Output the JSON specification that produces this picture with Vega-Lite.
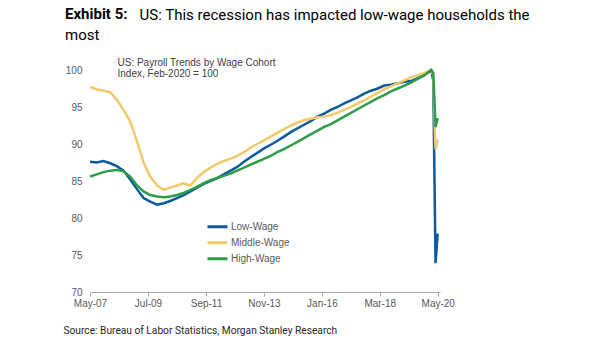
{
  "$schema": "https://vega.github.io/schema/vega-lite/v6.json",
  "width": 350,
  "height": 222,
  "autosize": {"type": "none"},
  "padding": {"left": 90, "top": 70, "right": 165, "bottom": 49},
  "background": "white",
  "title": {
    "text": "Exhibit 5:",
    "subtitle": "most",
    "anchor": "start",
    "frame": "group",
    "dx": -25,
    "offset": -35.5,
    "font": "Roboto",
    "fontSize": 15,
    "fontWeight": "bold",
    "color": "#000000",
    "subtitleFont": "Roboto",
    "subtitleFontSize": 15,
    "subtitleFontWeight": "normal",
    "subtitleColor": "#000000",
    "subtitlePadding": 5.7
  },
  "config": {"view": {"stroke": null}},
  "data": {
    "values": [
      {"date": "2007-05-01", "Low-Wage": 87.6, "Middle-Wage": 97.7, "High-Wage": 85.6},
      {"date": "2007-08-01", "Low-Wage": 87.5, "Middle-Wage": 97.4, "High-Wage": 85.9},
      {"date": "2007-11-01", "Low-Wage": 87.7, "Middle-Wage": 97.2, "High-Wage": 86.2},
      {"date": "2008-02-01", "Low-Wage": 87.4, "Middle-Wage": 97.0, "High-Wage": 86.4},
      {"date": "2008-05-01", "Low-Wage": 87.0, "Middle-Wage": 96.0, "High-Wage": 86.5},
      {"date": "2008-08-01", "Low-Wage": 86.4, "Middle-Wage": 94.6, "High-Wage": 86.3},
      {"date": "2008-11-01", "Low-Wage": 85.2, "Middle-Wage": 93.0, "High-Wage": 85.6},
      {"date": "2009-02-01", "Low-Wage": 83.9, "Middle-Wage": 90.4, "High-Wage": 84.4},
      {"date": "2009-05-01", "Low-Wage": 82.7, "Middle-Wage": 87.5, "High-Wage": 83.6},
      {"date": "2009-08-01", "Low-Wage": 82.2, "Middle-Wage": 85.6, "High-Wage": 83.1},
      {"date": "2009-11-01", "Low-Wage": 81.8, "Middle-Wage": 84.4, "High-Wage": 82.9},
      {"date": "2010-02-01", "Low-Wage": 82.0, "Middle-Wage": 83.8, "High-Wage": 82.8},
      {"date": "2010-05-01", "Low-Wage": 82.3, "Middle-Wage": 84.1, "High-Wage": 82.9},
      {"date": "2010-08-01", "Low-Wage": 82.7, "Middle-Wage": 84.4, "High-Wage": 83.1},
      {"date": "2010-11-01", "Low-Wage": 83.1, "Middle-Wage": 84.7, "High-Wage": 83.4},
      {"date": "2011-02-01", "Low-Wage": 83.6, "Middle-Wage": 84.4, "High-Wage": 83.8},
      {"date": "2011-05-01", "Low-Wage": 84.1, "Middle-Wage": 85.4, "High-Wage": 84.2},
      {"date": "2011-08-01", "Low-Wage": 84.6, "Middle-Wage": 86.2, "High-Wage": 84.7},
      {"date": "2011-11-01", "Low-Wage": 85.0, "Middle-Wage": 86.8, "High-Wage": 85.1},
      {"date": "2012-02-01", "Low-Wage": 85.4, "Middle-Wage": 87.3, "High-Wage": 85.4},
      {"date": "2012-05-01", "Low-Wage": 85.9, "Middle-Wage": 87.7, "High-Wage": 85.7},
      {"date": "2012-08-01", "Low-Wage": 86.4, "Middle-Wage": 88.0, "High-Wage": 86.0},
      {"date": "2012-11-01", "Low-Wage": 86.9, "Middle-Wage": 88.4, "High-Wage": 86.4},
      {"date": "2013-02-01", "Low-Wage": 87.6, "Middle-Wage": 88.9, "High-Wage": 86.8},
      {"date": "2013-05-01", "Low-Wage": 88.2, "Middle-Wage": 89.5, "High-Wage": 87.2},
      {"date": "2013-08-01", "Low-Wage": 88.8, "Middle-Wage": 90.0, "High-Wage": 87.6},
      {"date": "2013-11-01", "Low-Wage": 89.4, "Middle-Wage": 90.5, "High-Wage": 88.0},
      {"date": "2014-02-01", "Low-Wage": 89.9, "Middle-Wage": 91.0, "High-Wage": 88.4},
      {"date": "2014-05-01", "Low-Wage": 90.4, "Middle-Wage": 91.5, "High-Wage": 88.9},
      {"date": "2014-08-01", "Low-Wage": 91.0, "Middle-Wage": 92.0, "High-Wage": 89.3},
      {"date": "2014-11-01", "Low-Wage": 91.6, "Middle-Wage": 92.5, "High-Wage": 89.8},
      {"date": "2015-02-01", "Low-Wage": 92.1, "Middle-Wage": 92.9, "High-Wage": 90.3},
      {"date": "2015-05-01", "Low-Wage": 92.6, "Middle-Wage": 93.2, "High-Wage": 90.8},
      {"date": "2015-08-01", "Low-Wage": 93.1, "Middle-Wage": 93.4, "High-Wage": 91.3},
      {"date": "2015-11-01", "Low-Wage": 93.7, "Middle-Wage": 93.6, "High-Wage": 91.8},
      {"date": "2016-02-01", "Low-Wage": 94.1, "Middle-Wage": 93.7, "High-Wage": 92.3},
      {"date": "2016-05-01", "Low-Wage": 94.6, "Middle-Wage": 93.9, "High-Wage": 92.7},
      {"date": "2016-08-01", "Low-Wage": 95.0, "Middle-Wage": 94.2, "High-Wage": 93.2},
      {"date": "2016-11-01", "Low-Wage": 95.5, "Middle-Wage": 94.6, "High-Wage": 93.7},
      {"date": "2017-02-01", "Low-Wage": 95.9, "Middle-Wage": 95.0, "High-Wage": 94.2},
      {"date": "2017-05-01", "Low-Wage": 96.3, "Middle-Wage": 95.5, "High-Wage": 94.7},
      {"date": "2017-08-01", "Low-Wage": 96.8, "Middle-Wage": 95.9, "High-Wage": 95.2},
      {"date": "2017-11-01", "Low-Wage": 97.2, "Middle-Wage": 96.4, "High-Wage": 95.7},
      {"date": "2018-02-01", "Low-Wage": 97.5, "Middle-Wage": 96.9, "High-Wage": 96.2},
      {"date": "2018-05-01", "Low-Wage": 97.9, "Middle-Wage": 97.4, "High-Wage": 96.6},
      {"date": "2018-08-01", "Low-Wage": 98.0, "Middle-Wage": 97.8, "High-Wage": 97.1},
      {"date": "2018-11-01", "Low-Wage": 98.2, "Middle-Wage": 98.2, "High-Wage": 97.5},
      {"date": "2019-02-01", "Low-Wage": 98.4, "Middle-Wage": 98.6, "High-Wage": 97.9},
      {"date": "2019-05-01", "Low-Wage": 98.5, "Middle-Wage": 99.0, "High-Wage": 98.3},
      {"date": "2019-08-01", "Low-Wage": 98.9, "Middle-Wage": 99.3, "High-Wage": 98.8},
      {"date": "2019-11-01", "Low-Wage": 99.3, "Middle-Wage": 99.6, "High-Wage": 99.3},
      {"date": "2020-02-01", "Low-Wage": 100.0, "Middle-Wage": 100.0, "High-Wage": 100.0},
      {"date": "2020-03-01", "Low-Wage": 98.6, "Middle-Wage": 99.3, "High-Wage": 99.6},
      {"date": "2020-04-01", "Low-Wage": 73.9, "Middle-Wage": 89.3, "High-Wage": 92.3},
      {"date": "2020-05-01", "Low-Wage": 77.9, "Middle-Wage": 90.6, "High-Wage": 93.5}
    ]
  },
  "transform": [{"fold": ["Low-Wage", "Middle-Wage", "High-Wage"], "as": ["series", "value"]}],
  "encoding": {
    "x": {
      "field": "date",
      "type": "temporal",
      "scale": {"domain": [{"year": 2007, "month": 5, "date": 1}, {"year": 2020, "month": 6, "date": 1}]},
      "axis": {
        "values": [
          {"year": 2007, "month": 5, "date": 1},
          {"year": 2009, "month": 7, "date": 1},
          {"year": 2011, "month": 9, "date": 1},
          {"year": 2013, "month": 11, "date": 1},
          {"year": 2016, "month": 1, "date": 1},
          {"year": 2018, "month": 3, "date": 1},
          {"year": 2020, "month": 5, "date": 1}
        ],
        "format": "%b-%y",
        "grid": false,
        "domainColor": "#a6a6a6",
        "tickColor": "#a6a6a6",
        "tickSize": 4,
        "labelColor": "#595959",
        "labelFont": "Liberation Sans",
        "labelFontSize": 10,
        "labelPadding": 2,
        "labelFlush": false,
        "title": "Source: Bureau of Labor Statistics, Morgan Stanley Research",
        "titleX": -27,
        "titleY": 38.5,
        "titleAlign": "left",
        "titleAnchor": "start",
        "titleBaseline": "middle",
        "titleFont": "Roboto",
        "titleFontSize": 10.2,
        "titleFontWeight": "normal",
        "titleColor": "#262626"
      }
    }
  },
  "layer": [
    {
      "mark": {"type": "line", "strokeWidth": 2.5},
      "encoding": {
        "y": {
          "field": "value",
          "type": "quantitative",
          "scale": {"domain": [70, 100], "nice": false, "zero": false},
          "axis": {
            "values": [70, 75, 80, 85, 90, 95, 100],
            "grid": false,
            "domain": false,
            "ticks": false,
            "labelPadding": 8,
            "labelColor": "#595959",
            "labelFont": "Liberation Sans",
            "labelFontSize": 10,
            "title": ["US: Payroll Trends by Wage Cohort", "Index, Feb-2020 = 100"],
            "titleAngle": 0,
            "titleAlign": "left",
            "titleAnchor": "start",
            "titleBaseline": "top",
            "titleX": 27,
            "titleY": -13,
            "titleFont": "Liberation Sans",
            "titleFontSize": 10,
            "titleFontWeight": "normal",
            "titleColor": "#404040",
            "titleLineHeight": 11.5
          }
        },
        "color": {
          "field": "series",
          "type": "nominal",
          "sort": ["Low-Wage", "Middle-Wage", "High-Wage"],
          "scale": {"domain": ["Low-Wage", "Middle-Wage", "High-Wage"], "range": ["#0d5a9c", "#f2c96b", "#2e9d48"]},
          "legend": {
            "title": null,
            "orient": "none",
            "legendX": 116,
            "legendY": 150,
            "symbolType": "stroke",
            "symbolSize": 400,
            "symbolStrokeWidth": 3,
            "clipHeight": 13.5,
            "rowPadding": 2,
            "labelFont": "Liberation Sans",
            "labelFontSize": 10,
            "labelColor": "#595959",
            "labelOffset": 2
          }
        }
      }
    },
    {
      "transform": [{"filter": "false"}],
      "mark": {"type": "line"},
      "encoding": {
        "y": {
          "field": "value",
          "type": "quantitative",
          "scale": {"domain": [70, 100], "nice": false, "zero": false},
          "axis": {
            "orient": "right",
            "grid": false,
            "domain": false,
            "ticks": false,
            "labels": false,
            "title": "US: This recession has impacted low-wage households the",
            "titleAngle": 0,
            "titleAlign": "left",
            "titleAnchor": "start",
            "titleBaseline": "top",
            "titleX": -301,
            "titleY": -62.5,
            "titleFont": "Roboto",
            "titleFontSize": 15,
            "titleFontWeight": "normal",
            "titleColor": "#000000"
          }
        }
      }
    }
  ],
  "resolve": {"scale": {"y": "independent"}}
}
